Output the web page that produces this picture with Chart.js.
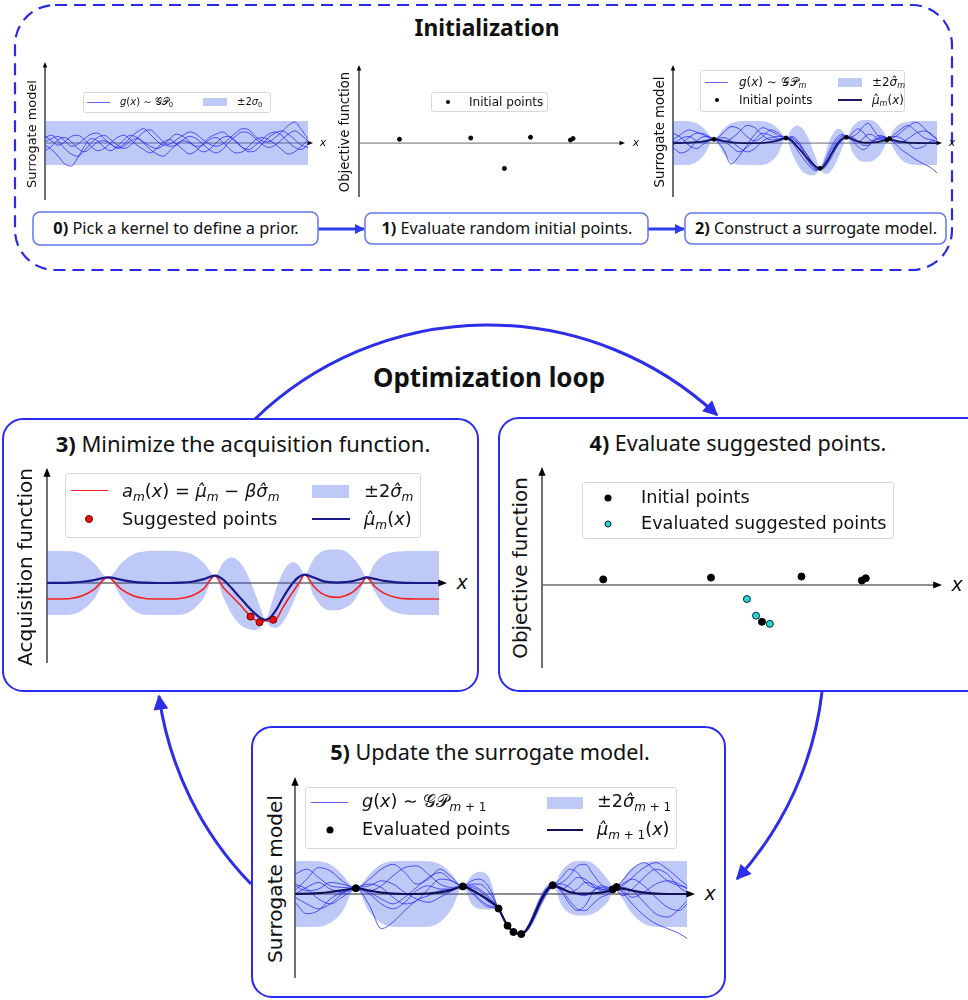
<!DOCTYPE html>
<html>
<head>
<meta charset="utf-8">
<script src="https://cdn.jsdelivr.net/npm/chart.js@4.4.1/dist/chart.umd.min.js"></script>
<style>
	body { margin: 0; width: 968px; height: 1000px; position: relative; overflow: hidden; background: #fff; font-family: "DejaVu Sans", sans-serif; color: #111; }
	svg.deco { position: absolute; left: 0; top: 0; }
	canvas { position: absolute; }
	.tt { position: absolute; transform: translate(-50%, -50%); white-space: nowrap; font-family: "Noto Sans", sans-serif; line-height: 1.2; }
	.yl { position: absolute; transform: translate(-50%, -50%) rotate(-90deg); white-space: nowrap; line-height: 1.2; }
	.xl { position: absolute; transform: translate(-50%, -50%); font-style: italic; line-height: 1; }
	.lg { position: absolute; left: 0; top: 0; }
	.lg span.t { position: absolute; transform: translateY(-50%); white-space: nowrap; line-height: 1.2; }
	.frame { position: absolute; border: 1px solid #d8d8d8; border-radius: 3px; background: rgba(255,255,255,0.85); box-sizing: border-box; }
	.hl { position: absolute; height: 0; }
	.patch { position: absolute; background: rgba(60, 90, 230, 0.33); }
	.dot { position: absolute; border-radius: 50%; transform: translate(-50%, -50%); box-sizing: border-box; }
	sub { font-size: 0.68em; vertical-align: -0.3em; line-height: 0; }
</style>
</head>
<body>

<svg class="deco" width="968" height="1000">
	<defs>
		<marker id="ah" viewBox="0 0 10 10" refX="9" refY="5" markerWidth="17" markerHeight="15" markerUnits="userSpaceOnUse" orient="auto">
			<path d="M0,0 L10,5 L0,10 z" fill="#2e2ee8"></path>
		</marker>
		<marker id="ahs" viewBox="0 0 10 10" refX="9" refY="5" markerWidth="11" markerHeight="10" markerUnits="userSpaceOnUse" orient="auto">
			<path d="M0,0 L10,5 L0,10 z" fill="#2e3ee8"></path>
		</marker>
	</defs>
	<!-- initialization frame -->
	<rect x="15" y="5" width="937" height="265" rx="40" fill="none" stroke="#2a2ae6" stroke-width="2.2" stroke-dasharray="12 7"></rect>
	<!-- step boxes -->
	<line x1="318" y1="229" x2="364" y2="229" stroke="#2e3ee8" stroke-width="3" marker-end="url(#ahs)"></line>
	<line x1="648" y1="229" x2="684" y2="229" stroke="#2e3ee8" stroke-width="3" marker-end="url(#ahs)"></line>
	<rect x="33" y="212" width="285" height="33" rx="7" fill="#fff" stroke="#6474f0" stroke-width="1.5"></rect>
	<rect x="365" y="213" width="283" height="31" rx="7" fill="#fff" stroke="#6474f0" stroke-width="1.5"></rect>
	<rect x="685" y="213" width="261" height="31" rx="7" fill="#fff" stroke="#6474f0" stroke-width="1.5"></rect>
	<!-- loop arrows -->
	<path d="M 255 419 A 336 336 0 0 1 717 415" fill="none" stroke="#2e2ee8" stroke-width="3" marker-end="url(#ah)"></path>
	<path d="M 822 692 A 336 336 0 0 1 737 879" fill="none" stroke="#2e2ee8" stroke-width="3" marker-end="url(#ah)"></path>
	<path d="M 251 884 A 336 336 0 0 1 159 696" fill="none" stroke="#2e2ee8" stroke-width="3" marker-end="url(#ah)"></path>
	<!-- loop boxes -->
	<rect x="3" y="419" width="475" height="272" rx="20" fill="#fff" stroke="#2b2bf0" stroke-width="2"></rect>
	<rect x="499" y="418" width="490" height="273" rx="20" fill="#fff" stroke="#2b2bf0" stroke-width="2"></rect>
	<rect x="252" y="727" width="473" height="270" rx="20" fill="#fff" stroke="#2b2bf0" stroke-width="2"></rect>
</svg>

<canvas id="c0"></canvas>
<canvas id="c1"></canvas>
<canvas id="c2"></canvas>
<canvas id="c3"></canvas>
<canvas id="c4"></canvas>
<canvas id="c5"></canvas>

<!-- titles -->
<div class="tt" data-w="145" style="left:487px;top:28px;font-size:22px;font-weight:bold">Initialization</div>
<div class="tt" data-w="232" style="left:489px;top:378px;font-size:24px;font-weight:bold">Optimization loop</div>
<div class="tt" data-w="375" style="left:243px;top:443px;font-size:20px"><b>3)</b> Minimize the acquisition function.</div>
<div class="tt" data-w="297" style="left:738px;top:443px;font-size:20px"><b>4)</b> Evaluate suggested points.</div>
<div class="tt" data-w="320" style="left:490px;top:752px;font-size:20px"><b>5)</b> Update the surrogate model.</div>
<div class="tt" data-w="245" style="left:176px;top:229px;font-size:14px"><b>0)</b> Pick a kernel to define a prior.</div>
<div class="tt" data-w="251" style="left:507px;top:229px;font-size:14px"><b>1)</b> Evaluate random initial points.</div>
<div class="tt" data-w="242" style="left:816px;top:229px;font-size:14px"><b>2)</b> Construct a surrogate model.</div>

<!-- axis labels -->
<div class="yl" data-w="108" style="left:32px;top:134px;font-size:11px">Surrogate model</div>
<div class="yl" data-w="121" style="left:345px;top:132px;font-size:11px">Objective function</div>
<div class="yl" data-w="111" style="left:660px;top:132px;font-size:11px">Surrogate model</div>
<div class="yl" data-w="198" style="left:25px;top:567px;font-size:17px">Acquisition function</div>
<div class="yl" data-w="181" style="left:521px;top:568px;font-size:17px">Objective function</div>
<div class="yl" data-w="168" style="left:275px;top:879px;font-size:17px">Surrogate model</div>
<div class="xl" style="left:323px;top:142px;font-size:11px">x</div>
<div class="xl" style="left:636px;top:142px;font-size:11px">x</div>
<div class="xl" style="left:952px;top:142px;font-size:11px">x</div>
<div class="xl" style="left:462px;top:582px;font-size:19px">x</div>
<div class="xl" style="left:957px;top:584px;font-size:19px">x</div>
<div class="xl" style="left:710px;top:893px;font-size:19px">x</div>

<!-- legend 0 -->
<div class="frame" style="left:83px;top:92px;width:188px;height:21px"></div>
<div class="lg" style="font-size:10px">
	<div class="hl" style="left:87px;top:102px;width:23px;border-top:1px solid rgba(35,35,245,0.7)"></div>
	<span class="t" style="left:120px;top:102px"><i>g</i>(<i>x</i>) ∼ 𝒢𝒫<sub>0</sub></span>
	<div class="patch" style="left:203px;top:98px;width:24px;height:8px"></div>
	<span class="t" style="left:237px;top:102px">±2<i>σ</i><sub>0</sub></span>
</div>
<!-- legend 1 -->
<div class="frame" style="left:431px;top:92px;width:117px;height:20px"></div>
<div class="lg" style="font-size:10px">
	<div class="dot" style="left:448px;top:102px;width:4px;height:4px;background:#000"></div>
	<span class="t" data-w="75" data-host="1" style="left:469px;top:102px">Initial points</span>
</div>
<!-- legend 2 -->
<div class="frame" style="left:700px;top:70px;width:205px;height:42px"></div>
<div class="lg" style="font-size:10px">
	<div class="hl" style="left:705px;top:82px;width:23px;border-top:1px solid rgba(35,35,245,0.7)"></div>
	<span class="t" style="left:739px;top:82px"><i>g</i>(<i>x</i>) ∼ 𝒢𝒫<sub><i>m</i></sub></span>
	<div class="patch" style="left:838px;top:78px;width:24px;height:9px"></div>
	<span class="t" style="left:872px;top:82px">±2<i>σ̂</i><sub><i>m</i></sub></span>
	<div class="dot" style="left:717px;top:100px;width:4px;height:4px;background:#000"></div>
	<span class="t" data-w="74" data-host="1" style="left:739px;top:100px">Initial points</span>
	<div class="hl" style="left:838px;top:99px;width:24px;border-top:2px solid #1a1a66"></div>
	<span class="t" style="left:872px;top:100px"><i>μ̂<sub>m</sub></i>(<i>x</i>)</span>
</div>
<!-- legend 3 -->
<div class="frame" style="left:65px;top:473px;width:356px;height:65px"></div>
<div class="lg" style="font-size:16px">
	<div class="hl" style="left:71px;top:490px;width:37px;border-top:1.6px solid #f52020"></div>
	<span class="t" style="left:122px;top:491px"><i>a<sub>m</sub></i>(<i>x</i>) = <i>μ̂<sub>m</sub></i> − <i>βσ̂<sub>m</sub></i></span>
	<div class="patch" style="left:312px;top:485px;width:37px;height:13px"></div>
	<span class="t" style="left:364px;top:491px">±2<i>σ̂<sub>m</sub></i></span>
	<div class="dot" style="left:89px;top:519px;width:8px;height:8px;background:#e81010;border:1px solid #600"></div>
	<span class="t" data-w="155" data-host="1" style="left:122px;top:519px">Suggested points</span>
	<div class="hl" style="left:312px;top:518px;width:38px;border-top:2.2px solid #1a1a8a"></div>
	<span class="t" style="left:364px;top:519px"><i>μ̂<sub>m</sub></i>(<i>x</i>)</span>
</div>
<!-- legend 4 -->
<div class="frame" style="left:582px;top:482px;width:312px;height:57px"></div>
<div class="lg" style="font-size:16px">
	<div class="dot" style="left:608px;top:498px;width:7px;height:7px;background:#000"></div>
	<span class="t" style="left:641px;top:498px">Initial points</span>
	<div class="dot" style="left:608px;top:524px;width:7px;height:7px;background:#2ad4d4;border:1px solid #123"></div>
	<span class="t" data-w="246" data-host="1" style="left:641px;top:524px">Evaluated suggested points</span>
</div>
<!-- legend 5 -->
<div class="frame" style="left:305px;top:787px;width:372px;height:62px"></div>
<div class="lg" style="font-size:16px">
	<div class="hl" style="left:311px;top:802px;width:37px;border-top:1px solid rgba(35,35,245,0.75)"></div>
	<span class="t" style="left:362px;top:802px"><i>g</i>(<i>x</i>) ∼ 𝒢𝒫<sub><i>m</i> + 1</sub></span>
	<div class="patch" style="left:547px;top:797px;width:36px;height:12px"></div>
	<span class="t" style="left:597px;top:802px">±2<i>σ̂</i><sub><i>m</i> + 1</sub></span>
	<div class="dot" style="left:330px;top:830px;width:7px;height:7px;background:#000"></div>
	<span class="t" data-w="148" data-host="1" style="left:362px;top:830px">Evaluated points</span>
	<div class="hl" style="left:547px;top:829px;width:36px;border-top:2.2px solid #12125a"></div>
	<span class="t" style="left:597px;top:830px"><i>μ̂</i><sub><i>m</i> + 1</sub>(<i>x</i>)</span>
</div>

<script>
// ── Data ─────────────────────────────────────────────
var priorX = [0, 0.25, 0.5, 0.75, 1, 1.25, 1.5, 1.75, 2, 2.25, 2.5, 2.75, 3, 3.25, 3.5, 3.75, 4, 4.25, 4.5, 4.75, 5,
	5.25, 5.5, 5.75, 6, 6.25, 6.5, 6.75, 7, 7.25, 7.5, 7.75, 8, 8.25, 8.5, 8.75, 9, 9.25, 9.5, 9.75, 10];
var priorBandX = [0, 10];
var priorUpper = [2, 2];
var priorLower = [-2, -2];
var priorA = [0.5, 0.7, 0.2, -0.5, -1.0, -1.2, -0.7, 0.0, 0.5, 0.7, 0.3, -0.2, -0.5, -0.2, 0.4, 1.0, 1.2, 0.7, 0.1, -0.3, -0.2,
	0.3, 0.6, 0.4, -0.1, -0.6, -0.9, -0.6, 0.1, 0.6, 1.0, 0.9, 0.4, -0.1, -0.4, -0.2, 0.3, 0.8, 1.1, 0.7, 0.2];
var priorB = [-0.2, -0.6, -1.2, -1.9, -2.1, -1.3, -0.3, 0.4, 0.2, -0.4, -0.7, -0.3, 0.3, 0.7, 0.5, 0.1, -0.3, -0.5, -0.2, 0.4, 0.8,
	0.6, 0.1, -0.4, -0.8, -0.6, 0.0, 0.5, 0.6, 0.2, -0.4, -0.8, -0.7, -0.1, 0.5, 0.9, 1.1, 0.8, 0.3, -0.2, -0.4];
var priorC = [0.6, 0.2, -0.2, 0.1, 0.6, 0.7, 0.3, -0.3, -0.7, -0.5, 0.0, 0.5, 0.7, 0.3, -0.2, -0.6, -0.9, -0.5, 0.1, 0.3, -0.1,
	-0.6, -1.0, -0.7, -0.1, 0.5, 0.8, 1.0, 0.6, 0.1, -0.4, -0.6, -0.2, 0.3, 0.8, 1.0, 0.7, 0.1, -0.4, -0.6, -0.1];
var priorD = [-0.7, -0.3, 0.3, 0.5, 0.1, -0.5, -0.8, -0.4, 0.1, 0.2, -0.1, -0.5, -0.3, 0.2, 0.4, 0.0, -0.6, -1.0, -1.2, -0.7, -0.1,
	0.2, 0.0, -0.3, -0.2, 0.3, 0.5, 0.1, -0.5, -0.9, -0.8, -0.3, 0.3, 0.5, 0.3, -0.1, -0.6, -1.0, -0.8, -0.3, 0.3];
var priorE = [0.1, 0.4, 0.6, 0.2, -0.3, -0.1, 0.4, 0.8, 0.9, 0.4, -0.1, -0.4, -0.1, 0.5, 1.0, 1.3, 0.8, 0.2, -0.2, -0.1, 0.3,
	0.7, 1.0, 0.8, 0.3, -0.1, -0.3, -0.1, 0.4, 0.9, 1.3, 1.2, 0.6, 0.2, 0.1, 0.5, 1.0, 1.6, 1.9, 1.2, 0.4];

var initialX = [1.55, 4.28, 5.57, 6.57, 8.1, 8.2];
var initialY = [0.35, 0.46, -2.3, 0.53, 0.28, 0.42];
var suggestedX = [5.19, 5.42, 5.77];
var suggestedAcq = [-2.1, -2.45, -2.3];
var suggestedObj = [-0.88, -1.92, -2.43];
var evaluatedX = [1.55, 4.28, 5.19, 5.42, 5.57, 5.77, 6.57, 8.1, 8.2];
var evaluatedY = [0.35, 0.46, -0.88, -1.92, -2.3, -2.43, 0.53, 0.28, 0.42];

// surrogate after initial points (panels 2 and 3)
var xs = [0, 0.3, 0.6, 0.9, 1.2, 1.55, 1.9, 2.2, 2.5, 2.8, 3.1, 3.4, 3.7, 4.0, 4.28, 4.5, 4.7, 4.9, 5.1, 5.3, 5.45, 5.57,
	5.7, 5.85, 6.0, 6.15, 6.3, 6.45, 6.57, 6.8, 7.0, 7.2, 7.4, 7.6, 7.8, 8.0, 8.15, 8.35, 8.6, 8.9, 9.2, 9.5, 9.8, 10];
var meanM = [0, 0.01, 0.03, 0.08, 0.18, 0.35, 0.2, 0.07, 0.02, 0, 0, 0.02, 0.08, 0.24, 0.46, 0.2, -0.3, -0.85, -1.4, -1.9, -2.2, -2.3,
	-2.15, -1.65, -1.0, -0.4, 0.1, 0.42, 0.53, 0.35, 0.15, 0.05, 0.03, 0.06, 0.12, 0.25, 0.35, 0.26, 0.13, 0.04, 0.01, 0, 0, 0];
var upperM = [2, 2, 1.98, 1.8, 1.25, 0.35, 1.25, 1.8, 1.98, 2.02, 2.02, 1.98, 1.8, 1.25, 0.46, 1.3, 1.6, 1.35, 0.6, -0.6, -1.6, -2.3,
	-1.5, -0.3, 0.6, 1.15, 1.3, 1.0, 0.53, 1.5, 1.95, 2.1, 2.1, 2.0, 1.6, 0.95, 0.35, 1.2, 1.75, 1.95, 2, 2, 2, 2];
var lowerM = [-2, -2, -1.98, -1.7, -1.0, 0.35, -0.9, -1.7, -1.98, -2, -2, -1.98, -1.7, -0.9, 0.46, -0.9, -1.9, -2.55, -2.85, -2.95, -2.75, -2.3,
	-2.75, -2.8, -2.5, -1.9, -1.1, -0.2, 0.53, -0.8, -1.45, -1.7, -1.7, -1.55, -1.2, -0.4, 0.35, -0.5, -1.4, -1.85, -1.98, -2, -2, -2];
var acqM = [-1.0, -1.0, -0.97, -0.8, -0.4, 0.35, -0.4, -0.8, -0.97, -1.0, -1.0, -0.97, -0.8, -0.35, 0.46, -0.3, -0.8, -1.3, -1.85, -2.3, -2.45, -2.35,
	-2.4, -2.25, -1.6, -1.0, -0.45, 0.1, 0.53, -0.2, -0.65, -0.85, -0.9, -0.8, -0.55, -0.1, 0.35, -0.2, -0.65, -0.9, -0.99, -1.0, -1.0, -1.0];
var sampleM1 = [0.3, 0.8, 1.2, 1.0, 0.7, 0.35, 0.9, 1.5, 1.3, 0.6, 0.2, 0.6, 1.2, 0.9, 0.46, 0.6, 0.3, -0.4, -1.2, -1.9, -2.3, -2.3,
	-1.9, -1.1, -0.3, 0.3, 0.7, 0.8, 0.53, 0.9, 1.3, 1.0, 0.4, 0.2, 0.5, 0.6, 0.35, 0.7, 1.2, 1.6, 1.1, 0.5, 0.3, 0.2];
var sampleM2 = [-0.4, -0.9, -0.6, 0.2, 0.6, 0.35, -0.5, -1.9, -1.2, -0.2, 0.8, 1.4, 1.1, 0.7, 0.46, 0.1, -0.6, -1.3, -1.9, -2.4, -2.5, -2.3,
	-2.3, -1.9, -1.3, -0.6, 0.0, 0.4, 0.53, 0.2, -0.3, -0.6, -0.3, 0.3, 0.7, 0.6, 0.35, 0.1, -0.5, -1.0, -1.5, -1.9, -2.3, -2.7];
var sampleM3 = [0.9, 0.5, -0.2, -0.5, 0.0, 0.35, 0.5, 0.2, -0.4, -0.8, -0.5, 0.2, 0.5, 0.6, 0.46, 0.4, 0.0, -0.6, -1.5, -2.1, -2.4, -2.3,
	-2.0, -1.4, -0.6, 0.0, 0.5, 0.7, 0.53, 0.6, 0.9, 1.5, 1.8, 1.2, 0.6, 0.5, 0.35, 0.5, 0.9, 1.5, 1.9, 1.4, 0.7, 0.4];
var sampleM4 = [0.2, 0.0, 0.5, 0.9, 0.8, 0.35, 0.1, 0.4, 1.0, 1.6, 1.4, 0.7, 0.3, 0.3, 0.46, 0.3, -0.3, -0.9, -1.6, -2.2, -2.4, -2.3,
	-2.2, -1.7, -1.0, -0.3, 0.2, 0.5, 0.53, 0.3, 0.1, 0.4, 0.8, 0.7, 0.3, 0.35, 0.35, 0.2, 0.0, 0.4, 0.9, 1.1, 0.8, 0.3];
var sampleM5 = [-0.2, 0.4, 0.6, 0.2, 0.1, 0.35, 0.2, -0.3, -0.8, -0.4, 0.3, 0.9, 0.7, 0.4, 0.46, 0.5, 0.1, -0.5, -1.1, -1.8, -2.2, -2.3,
	-2.1, -1.6, -0.9, -0.2, 0.3, 0.6, 0.53, 0.5, 0.2, -0.2, -0.2, 0.2, 0.4, 0.45, 0.35, 0.6, 0.5, 0.0, -0.5, -0.3, 0.2, 0.0];

// surrogate after the suggested points (panel 5)
var xsNext = [0, 0.3, 0.6, 0.9, 1.2, 1.55, 1.9, 2.2, 2.5, 2.8, 3.1, 3.4, 3.7, 4.0, 4.28, 4.5, 4.7, 4.95, 5.19, 5.3, 5.42, 5.57,
	5.77, 5.95, 6.1, 6.25, 6.4, 6.5, 6.57, 6.8, 7.0, 7.2, 7.4, 7.6, 7.8, 8.0, 8.15, 8.35, 8.6, 8.9, 9.2, 9.5, 9.8, 10];
var meanNext = [0, 0.02, 0.05, 0.12, 0.22, 0.35, 0.2, 0.08, 0.02, 0, 0, 0.03, 0.1, 0.25, 0.46, 0.25, -0.02, -0.4, -0.88, -1.4, -1.92, -2.3,
	-2.43, -2.0, -1.3, -0.5, 0.15, 0.42, 0.53, 0.32, 0.12, 0.03, 0.02, 0.04, 0.08, 0.18, 0.35, 0.33, 0.2, 0.08, 0.02, 0, 0, 0];
var upperNext = [2, 2, 1.98, 1.8, 1.2, 0.35, 1.2, 1.8, 1.98, 2, 2, 1.98, 1.8, 1.2, 0.46, 1.1, 1.35, 1.0, -0.88, -1.25, -1.92, -2.3,
	-2.43, -1.8, -0.95, -0.1, 0.5, 0.62, 0.53, 1.4, 1.85, 2.0, 2.0, 1.85, 1.4, 0.8, 0.35, 0.9, 1.6, 1.9, 2, 2, 2, 2];
var lowerNext = [-2, -2, -1.98, -1.75, -1.1, 0.35, -1.1, -1.75, -1.98, -2, -2, -1.98, -1.7, -0.9, 0.46, -0.6, -0.9, -0.95, -0.88, -1.55, -1.92, -2.3,
	-2.43, -2.2, -1.65, -0.9, -0.2, 0.22, 0.53, -0.7, -1.15, -1.3, -1.3, -1.2, -0.9, -0.4, 0.35, -0.3, -1.2, -1.8, -1.98, -2, -2, -2];
var sampleN1 = [0.2, 0.9, 1.6, 1.4, 0.8, 0.35, 0.9, 1.5, 1.8, 1.3, 0.6, 0.9, 1.5, 1.0, 0.46, 0.8, 0.9, 0.4, -0.88, -1.35, -1.92, -2.3,
	-2.43, -1.95, -1.2, -0.35, 0.3, 0.5, 0.53, 1.0, 1.5, 1.3, 0.7, 0.4, 0.3, 0.25, 0.35, 0.8, 1.5, 1.9, 1.4, 0.8, 0.5, 0.4];
var sampleN2 = [-0.5, -1.2, -1.0, -0.3, 0.1, 0.35, -0.7, -2.1, -1.7, -1.0, -0.4, -0.1, 0.2, 0.3, 0.46, 0.3, 0.0, -0.5, -0.88, -1.45, -1.92, -2.3,
	-2.43, -2.1, -1.5, -0.7, -0.05, 0.3, 0.53, 0.2, -0.4, -0.9, -1.0, -0.6, -0.2, 0.0, 0.35, 0.1, -0.6, -1.3, -1.8, -2.1, -2.4, -2.7];
var sampleN3 = [0.6, 0.3, -0.3, -0.6, -0.2, 0.35, 0.6, 0.4, -0.2, -0.6, -0.4, 0.3, 0.9, 0.8, 0.46, 0.5, 0.3, -0.2, -0.88, -1.4, -1.92, -2.3,
	-2.43, -2.0, -1.25, -0.45, 0.2, 0.45, 0.53, 0.7, 1.1, 1.7, 1.8, 1.2, 0.6, 0.35, 0.35, 0.5, 1.0, 1.6, 1.9, 1.5, 0.9, 0.5];
var sampleN4 = [1.2, 1.5, 1.0, 0.5, 0.4, 0.35, 0.2, 0.5, 1.1, 1.6, 1.7, 1.2, 0.6, 0.4, 0.46, 0.4, 0.2, -0.3, -0.88, -1.38, -1.92, -2.3,
	-2.43, -1.9, -1.1, -0.3, 0.3, 0.5, 0.53, 0.4, 0.1, 0.3, 0.7, 0.6, 0.3, 0.2, 0.35, 0.2, -0.2, 0.1, 0.6, 0.8, 0.6, 0.3];
var sampleN5 = [0.0, 0.4, 0.7, 0.3, 0.1, 0.35, 0.1, -0.3, -0.6, -0.2, 0.4, 1.0, 1.3, 0.8, 0.46, 0.6, 0.6, 0.1, -0.88, -1.42, -1.92, -2.3,
	-2.43, -2.05, -1.35, -0.55, 0.1, 0.4, 0.53, 0.6, 0.4, 0.0, -0.1, 0.2, 0.4, 0.3, 0.35, 0.6, 0.9, 0.5, -0.2, -0.8, -1.0, -0.6];
var sampleN6 = [-0.2, -0.6, -0.9, -0.6, 0.0, 0.35, 0.5, 0.8, 0.6, 0.1, -0.3, -0.5, -0.2, 0.2, 0.46, 0.2, -0.3, -0.7, -0.88, -1.45, -1.92, -2.3,
	-2.43, -2.15, -1.4, -0.6, 0.05, 0.35, 0.53, 0.3, 0.6, 1.0, 0.9, 0.5, 0.2, 0.1, 0.35, 0.4, 0.2, -0.5, -1.2, -1.4, -0.9, -0.4];
var sampleN7 = [0.5, 0.2, 0.3, 0.7, 0.6, 0.35, 0.0, -0.6, -0.9, -0.5, 0.2, 0.5, 0.3, 0.3, 0.46, 0.1, -0.4, -0.8, -0.88, -1.4, -1.92, -2.3,
	-2.43, -2.0, -1.3, -0.5, 0.15, 0.45, 0.53, 0.1, -0.6, -1.0, -0.7, 0.1, 0.5, 0.4, 0.35, -0.1, 0.3, 1.0, 1.5, 1.2, 0.4, 0.1];

(function () {
	'use strict';

	// fit text widths to the reference
	document.querySelectorAll('[data-w]').forEach(function (el) {
		var host = el.hasAttribute('data-host') ? el.parentNode : el;
		var fs = parseFloat(getComputedStyle(host).fontSize);
		host.style.fontSize = (fs * (+el.getAttribute('data-w')) / el.offsetWidth) + 'px';
	});

	var BAND = 'rgba(60, 90, 230, 0.33)';
	var SAMPLE = 'rgba(35, 35, 245, 0.75)';

	function pts(xv, yv) {
		return xv.map(function (x, i) { return { x: x, y: yv[i] }; });
	}

	function curve(xv, yv, color, width, order) {
		return {
			data: pts(xv, yv), borderColor: color, borderWidth: width, pointRadius: 0,
			fill: false, cubicInterpolationMode: 'monotone', order: order
		};
	}

	function band(xv, lo, hi) {
		return [
			{ data: pts(xv, lo), borderWidth: 0, pointRadius: 0, fill: false, cubicInterpolationMode: 'monotone', order: 20 },
			{ data: pts(xv, hi), borderWidth: 0, pointRadius: 0, fill: '-1', backgroundColor: BAND, cubicInterpolationMode: 'monotone', order: 20 }
		];
	}

	function dots(xv, yv, fillColor, edge, r) {
		return {
			data: pts(xv, yv), showLine: false, pointRadius: r, pointBackgroundColor: fillColor,
			pointBorderColor: edge, pointBorderWidth: 1, order: 0
		};
	}

	// arrow-tipped axes through the origin
	var arrowAxes = {
		id: 'arrowAxes',
		beforeDatasetsDraw: function (chart, args, opts) {
			var a = chart.chartArea, ctx = chart.ctx, h = opts.head || 6;
			var x0 = chart.scales.x.getPixelForValue(0);
			var y0 = chart.scales.y.getPixelForValue(0);
			ctx.save();
			ctx.lineWidth = 1.3;
			ctx.strokeStyle = '#222';
			ctx.beginPath();
			ctx.moveTo(x0, a.bottom);
			ctx.lineTo(x0, a.top + h);
			ctx.stroke();
			ctx.fillStyle = '#000';
			ctx.beginPath();
			ctx.moveTo(x0, a.top);
			ctx.lineTo(x0 - h * 0.45, a.top + h * 1.1);
			ctx.lineTo(x0 + h * 0.45, a.top + h * 1.1);
			ctx.fill();
			ctx.strokeStyle = '#6a6a6a';
			ctx.lineWidth = opts.lw || 1.3;
			ctx.beginPath();
			ctx.moveTo(x0, y0);
			ctx.lineTo(a.right - h, y0);
			ctx.stroke();
			ctx.beginPath();
			ctx.moveTo(a.right, y0);
			ctx.lineTo(a.right - h * 1.1, y0 - h * 0.45);
			ctx.lineTo(a.right - h * 1.1, y0 + h * 0.45);
			ctx.fill();
			ctx.restore();
		}
	};

	function makeChart(id, g, datasets) {
		var pad = 8;
		var c = document.getElementById(id);
		c.width = g.right - g.left + 2 * pad;
		c.height = g.bottom - g.top + 2 * pad;
		c.style.left = (g.left - pad) + 'px';
		c.style.top = (g.top - pad) + 'px';
		return new Chart(c, {
			type: 'line',
			data: { datasets: datasets },
			options: {
				responsive: false,
				animation: false,
				devicePixelRatio: 1,
				events: [],
				layout: { padding: pad },
				plugins: {
					legend: { display: false },
					tooltip: { enabled: false },
					arrowAxes: { head: g.head, lw: g.lw }
				},
				scales: {
					x: { type: 'linear', display: false, min: 0, max: g.xMax },
					y: { type: 'linear', display: false, min: g.yMin, max: g.yMax }
				}
			},
			plugins: [arrowAxes]
		});
	}

	// ── 0) prior ─────────────────────────────────────────
	makeChart('c0', { left: 45, right: 313, top: 62, bottom: 200, xMax: 10.19, yMin: -5.18, yMax: 7.36, head: 5, lw: 1 },
		band(priorBandX, priorLower, priorUpper).concat([
			curve(priorX, priorA, SAMPLE, 1, 5),
			curve(priorX, priorB, SAMPLE, 1, 5),
			curve(priorX, priorC, SAMPLE, 1, 5),
			curve(priorX, priorD, SAMPLE, 1, 5),
			curve(priorX, priorE, SAMPLE, 1, 5)
		]));

	// ── 1) initial points ────────────────────────────────
	makeChart('c1', { left: 359, right: 625, top: 65, bottom: 197, xMax: 10.19, yMin: -4.9, yMax: 7.1, head: 5, lw: 1 }, [
		dots(initialX, initialY, '#000', '#000', 2)
	]);

	// ── 2) surrogate model ───────────────────────────────
	makeChart('c2', { left: 673, right: 942, top: 65, bottom: 197, xMax: 10.19, yMin: -4.9, yMax: 7.1, head: 5, lw: 1 },
		band(xs, lowerM, upperM).concat([
			curve(xs, sampleM1, SAMPLE, 1, 5),
			curve(xs, sampleM2, SAMPLE, 1, 5),
			curve(xs, sampleM3, SAMPLE, 1, 5),
			curve(xs, sampleM4, SAMPLE, 1, 5),
			curve(xs, sampleM5, SAMPLE, 1, 5),
			curve(xs, meanM, '#16165e', 1.8, 2),
			dots(initialX, initialY, '#000', '#000', 2)
		]));

	// ── 3) acquisition function ──────────────────────────
	makeChart('c3', { left: 47, right: 447, top: 468, bottom: 663, xMax: 10.2, yMin: -5.0, yMax: 7.19, head: 8, lw: 1.4 },
		band(xs, lowerM, upperM).concat([
			curve(xs, acqM, '#f52020', 1.6, 3),
			curve(xs, meanM, '#1a1a8a', 2.2, 2),
			dots(suggestedX, suggestedAcq, '#e81010', '#600', 3.5)
		]));

	// ── 4) evaluated points ──────────────────────────────
	makeChart('c4', { left: 542, right: 942, top: 467, bottom: 668, xMax: 10.13, yMin: -5.19, yMax: 7.375, head: 8, lw: 1.4 }, [
		dots(initialX, initialY, '#000', '#000', 3.5),
		dots(suggestedX, suggestedObj, '#2ad4d4', '#123', 3.5)
	]);

	// ── 5) updated surrogate ─────────────────────────────
	makeChart('c5', { left: 295, right: 695, top: 777, bottom: 978, xMax: 10.2, yMin: -5.09, yMax: 7.09, head: 8, lw: 1.4 },
		band(xsNext, lowerNext, upperNext).concat([
			curve(xsNext, sampleN1, SAMPLE, 1, 5),
			curve(xsNext, sampleN2, SAMPLE, 1, 5),
			curve(xsNext, sampleN3, SAMPLE, 1, 5),
			curve(xsNext, sampleN4, SAMPLE, 1, 5),
			curve(xsNext, sampleN5, SAMPLE, 1, 5),
			curve(xsNext, sampleN6, SAMPLE, 1, 5),
			curve(xsNext, sampleN7, SAMPLE, 1, 5),
			curve(xsNext, meanNext, '#12125a', 2.2, 2),
			dots(evaluatedX, evaluatedY, '#000', '#000', 3.5)
		]));
})();
</script>
</body>
</html>
